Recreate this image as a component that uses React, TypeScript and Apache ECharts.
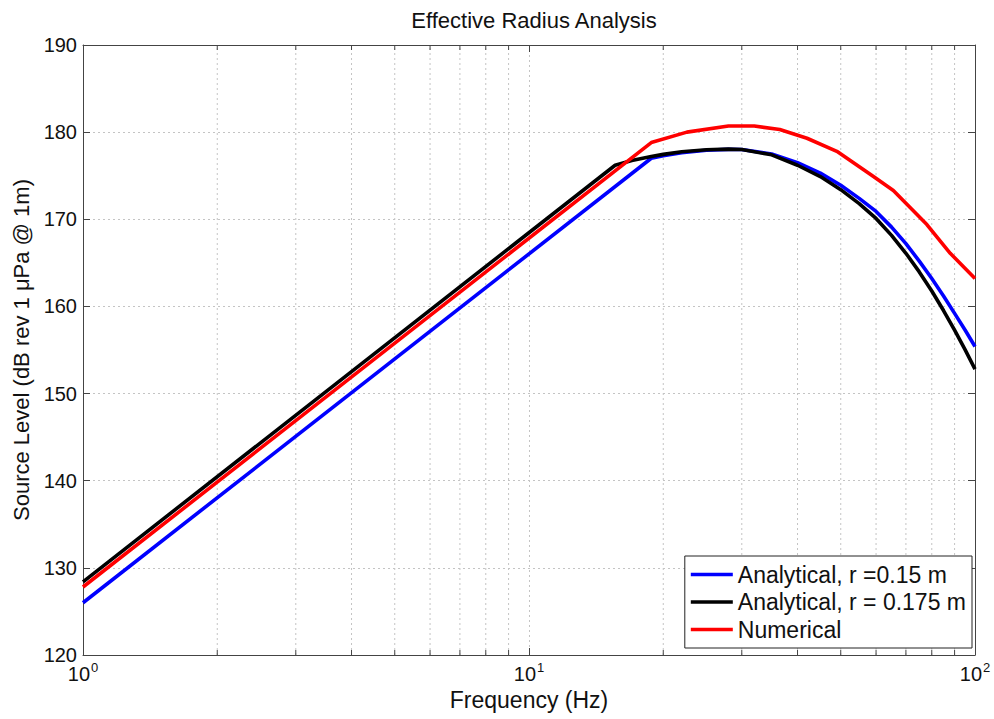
import React, { useEffect, useRef } from "react";
import * as echarts from "echarts";

const titleText = "Effective Radius Analysis";
const xName = "Frequency (Hz)";
const yName = "Source Level (dB rev 1 μPa @ 1m)";
const seriesNames = ["Analytical, r =0.15 m", "Analytical, r = 0.175 m", "Numerical"];

// [frequency Hz, source level dB]
const blueData: number[][] = [
  [1, 126.0], [18.8, 177.0], [20, 177.3], [22, 177.65], [25, 177.92], [28, 178.02],
  [30, 178.0], [35, 177.5], [40, 176.5], [45, 175.3], [50, 173.9], [55, 172.4],
  [60, 170.9], [65, 169.1], [70, 167.2], [75, 165.2], [80, 163.2], [85, 161.2],
  [90, 159.2], [95, 157.3], [100, 155.4],
];
const blackData: number[][] = [
  [1, 128.4], [15.6, 176.2], [17, 176.75], [18.8, 177.2], [20, 177.45], [22, 177.75],
  [25, 177.98], [28, 178.05], [30, 178.0], [35, 177.4], [40, 176.2], [45, 174.9],
  [50, 173.4], [55, 171.8], [60, 170.1], [65, 168.15], [70, 166.1], [75, 163.96],
  [80, 161.77], [85, 159.53], [90, 157.28], [95, 155.04], [100, 152.8],
];
const redData: number[][] = [
  [1, 127.8], [18.8, 178.8], [22.6, 180.0], [28, 180.7], [32, 180.7], [36.5, 180.3],
  [42, 179.3], [49, 177.8], [59.2, 174.9], [65.6, 173.3], [78, 169.4], [88, 166.1],
  [100, 163.2],
];
const minorFreqs = [2, 3, 4, 5, 6, 7, 8, 9, 20, 30, 40, 50, 60, 70, 80, 90];
const yMin = 120;
const yMax = 190;
const yStep = 10;

const FONT = "'Liberation Sans', Arial, Helvetica, sans-serif";
const GRID_COLOR = "#c4c4c4";
const AXIS_COLOR = "#444";
const TEXT_COLOR = "#111";

export default function App() {
  const ref = useRef<HTMLDivElement>(null);
  useEffect(() => {
    if (!ref.current) return;
    const chart = echarts.init(ref.current, null, { renderer: "svg" });
    const supLabel = (v: number) => `{b|10}{s|${Math.round(Math.log10(v))}}`;
    const lineSeries = (name: string, data: number[][], color: string, z: number) => ({
      name,
      type: "line",
      data,
      symbol: "none",
      showSymbol: false,
      lineStyle: { color, width: 3.6 },
      itemStyle: { color },
      z,
      xAxisIndex: 0,
      yAxisIndex: 0,
    });
    chart.setOption({
      animation: false,
      backgroundColor: "#fff",
      textStyle: { fontFamily: FONT },
      title: {
        text: titleText,
        left: 529,
        textAlign: "center",
        top: 4,
        textStyle: { fontFamily: FONT, fontSize: 22, fontWeight: "normal", color: TEXT_COLOR },
      },
      grid: { left: 83, right: 19, top: 45, bottom: 64, containLabel: false },
      legend: {
        orient: "vertical",
        right: 22,
        bottom: 71,
        backgroundColor: "#fff",
        borderColor: "#222",
        borderWidth: 1,
        padding: [7, 6, 7, 6],
        icon: "rect",
        itemWidth: 42,
        itemHeight: 3.5,
        itemGap: 4.5,
        data: seriesNames,
        textStyle: { fontFamily: FONT, fontSize: 23, color: TEXT_COLOR, lineHeight: 23 },
      },
      xAxis: [
        {
          type: "log",
          logBase: 10,
          min: 1,
          max: 100,
          position: "bottom",
          name: xName,
          nameLocation: "middle",
          nameGap: 30,
          nameTextStyle: { fontFamily: FONT, fontSize: 23, color: TEXT_COLOR },
          axisLine: { show: true, lineStyle: { color: AXIS_COLOR, width: 1 } },
          axisTick: { show: true, inside: true, length: 7, lineStyle: { color: AXIS_COLOR } },
          axisLabel: {
            margin: 6,
            formatter: supLabel,
            rich: {
              b: { fontFamily: FONT, fontSize: 20, color: TEXT_COLOR },
              s: { fontFamily: FONT, fontSize: 13, color: TEXT_COLOR, padding: [0, 0, 12, 1] },
            },
          },
          splitLine: { show: true, lineStyle: { color: GRID_COLOR, type: [2, 3], width: 1 } },
          minorTick: { show: false },
        },
        {
          type: "log",
          logBase: 10,
          min: 1,
          max: 100,
          position: "top",
          axisLine: { show: true, lineStyle: { color: AXIS_COLOR, width: 1 } },
          axisTick: { show: true, inside: true, length: 7, lineStyle: { color: AXIS_COLOR } },
          axisLabel: { show: false },
          splitLine: { show: false },
        },
      ],
      yAxis: [
        {
          type: "value",
          min: yMin,
          max: yMax,
          interval: yStep,
          position: "left",
          name: yName,
          nameLocation: "middle",
          nameGap: 49,
          nameTextStyle: { fontFamily: FONT, fontSize: 22, color: TEXT_COLOR },
          axisLine: { show: true, lineStyle: { color: AXIS_COLOR, width: 1 } },
          axisTick: { show: true, inside: true, length: 7, lineStyle: { color: AXIS_COLOR } },
          axisLabel: { fontFamily: FONT, fontSize: 20, color: TEXT_COLOR, margin: 6 },
          splitLine: { show: true, lineStyle: { color: GRID_COLOR, type: [2, 3], width: 1 } },
        },
        {
          type: "value",
          min: yMin,
          max: yMax,
          interval: yStep,
          position: "right",
          axisLine: { show: true, lineStyle: { color: AXIS_COLOR, width: 1 } },
          axisTick: { show: true, inside: true, length: 7, lineStyle: { color: AXIS_COLOR } },
          axisLabel: { show: false },
          splitLine: { show: false },
        },
      ],
      series: [
        {
          type: "custom",
          name: "minorGrid",
          xAxisIndex: 0,
          yAxisIndex: 0,
          silent: true,
          z: 1,
          data: minorFreqs.map((f) => [f, yMin]),
          renderItem: (params: any, api: any) => {
            const f = api.value(0);
            const p1 = api.coord([f, yMin]);
            const p2 = api.coord([f, yMax]);
            return {
              type: "group",
              children: [
                {
                  type: "line",
                  shape: { x1: p1[0], y1: p1[1], x2: p2[0], y2: p2[1] },
                  style: { stroke: GRID_COLOR, lineWidth: 1, lineDash: [2, 3] },
                },
                {
                  type: "line",
                  shape: { x1: p1[0], y1: p1[1], x2: p1[0], y2: p1[1] - 5 },
                  style: { stroke: AXIS_COLOR, lineWidth: 1 },
                },
                {
                  type: "line",
                  shape: { x1: p2[0], y1: p2[1], x2: p2[0], y2: p2[1] + 5 },
                  style: { stroke: AXIS_COLOR, lineWidth: 1 },
                },
              ],
            };
          },
        },
        lineSeries(seriesNames[0], blueData, "#0000ff", 3),
        lineSeries(seriesNames[1], blackData, "#000000", 4),
        lineSeries(seriesNames[2], redData, "#ff0000", 5),
      ],
    });
    return () => chart.dispose();
  }, []);
  return <div ref={ref} style={{ width: 994, height: 719, position: "absolute", left: 0, top: 0 }} />;
}
